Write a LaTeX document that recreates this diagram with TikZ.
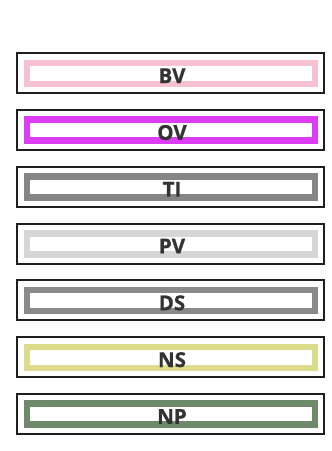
\documentclass[tikz,border=0pt]{standalone}
\usepackage{fontspec}
\setmainfont{Open Sans}
\newfontfamily\labfont{Open Sans}[BoldFeatures={FakeBold=0.9}]
\definecolor{cBV}{HTML}{F6C1D1}
\definecolor{cOV}{HTML}{DC3CF6}
\definecolor{cTI}{HTML}{858585}
\definecolor{cPV}{HTML}{D6D6D6}
\definecolor{cDS}{HTML}{8A8A8A}
\definecolor{cNS}{HTML}{DCDC8C}
\definecolor{cNP}{HTML}{6E8A6A}
\definecolor{txt}{HTML}{333333}
\tikzset{
  outerbox/.style={draw=black!88, line width=2pt, minimum width=307pt, minimum height=40pt, inner sep=0pt},
  innerbox/.style={line width=6.5pt, minimum width=288pt, minimum height=21pt, inner sep=0pt},
  lab/.style={text=txt, font=\labfont\bfseries\fontsize{20.5}{22}\selectfont, inner sep=0pt, anchor=base}
}
\begin{document}
\begin{tikzpicture}[x=1pt,y=1pt]
\useasboundingbox (0,0) rectangle (332,-451);
\foreach \n/\c [count=\i from 0] in {BV/cBV,OV/cOV,TI/cTI,PV/cPV,DS/cDS,NS/cNS,NP/cNP}{
  \pgfmathsetmacro{\yy}{-73.2-56.8*\i}
  \node[outerbox] (o\n) at (170.5,\yy) {};
  \node[innerbox, draw=\c] (i\n) at (170.8,\yy-0.2) {};
  \node[lab] (t\n) at ([xshift=1.5pt,yshift=-9.8pt]o\n.center) {\n};
}
\end{tikzpicture}
\end{document}
